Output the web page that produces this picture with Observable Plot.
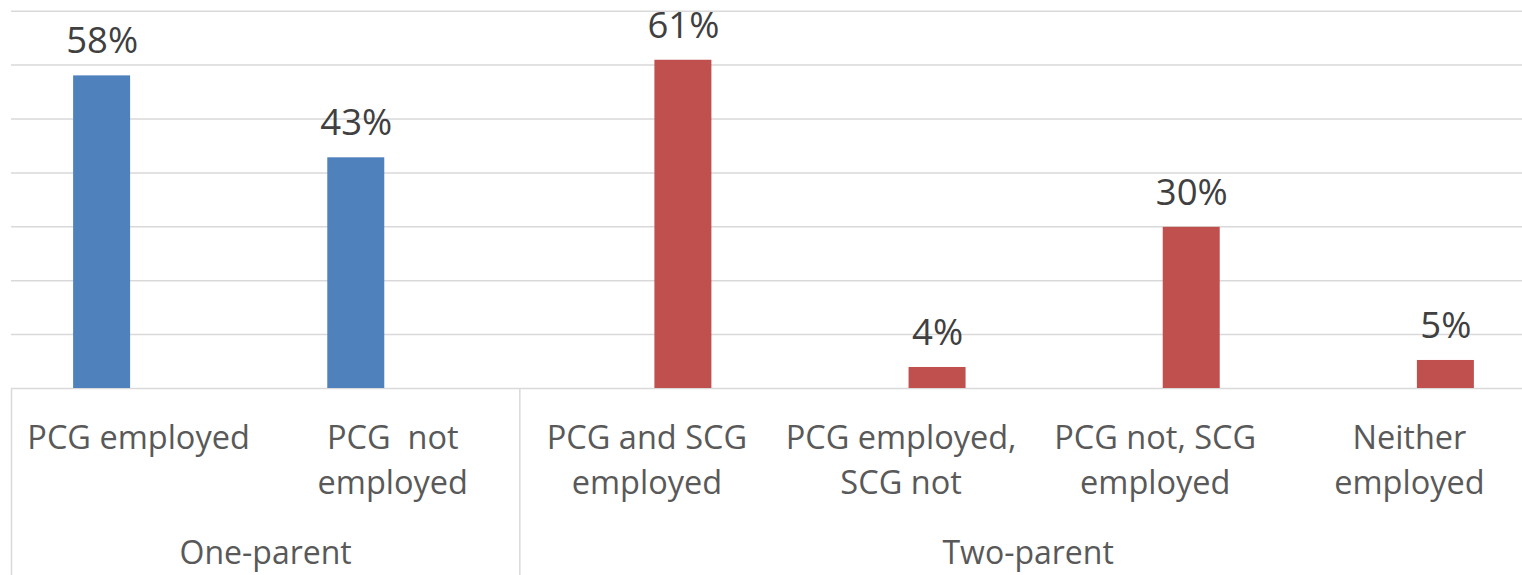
<!DOCTYPE html>
<html>
<head>
<meta charset="utf-8">
<script src="https://cdn.jsdelivr.net/npm/d3@7"></script>
<script src="https://cdn.jsdelivr.net/npm/@observablehq/plot@0.6"></script>
<style>
  html, body { margin: 0; padding: 0; background: #fff; }
  #chart { width: 1522px; height: 575px; overflow: hidden; }
</style>
</head>
<body>
<div id="chart"></div>
<script>
// ---- data ----
const categories = [
  "PCG employed",
  "PCG  not\nemployed",
  "PCG and SCG\nemployed",
  "PCG employed,\nSCG not",
  "PCG not, SCG\nemployed",
  "Neither\nemployed"
];
const groups = ["One-parent", "One-parent", "Two-parent", "Two-parent", "Two-parent", "Two-parent"];
const values = [58.0, 42.8, 60.9, 3.9, 29.9, 5.2];
const seriesNames = ["One-parent", "Two-parent"];
const seriesColors = ["#4F81BD", "#C0504D"];
const yTicks = [0, 10, 20, 30, 40, 50, 60, 70];

// Excel-like clustered column layout parameters
const gapWidth = 2.18;
const overlap = -0.28;
const nSeries = seriesNames.length;
const barW = 1 / (nSeries - (nSeries - 1) * overlap + gapWidth);
const clusterW = barW * (nSeries - (nSeries - 1) * overlap);
const barStart = (s) => 0.5 - clusterW / 2 + seriesNames.indexOf(s) * barW * (1 - overlap);

const data = categories.map((c, i) => ({cat: c, i, group: groups[i], value: values[i]}));

// group extents
const groupList = [];
groups.forEach((g, i) => {
  const last = groupList[groupList.length - 1];
  if (last && last.name === g) last.end = i + 1;
  else groupList.push({name: g, start: i, end: i + 1});
});
const boundaries = [0, ...groupList.map(g => g.end)];

const font = "'Open Sans', 'Noto Sans', sans-serif";

const chart = Plot.plot({
  width: 1522,
  height: 575,
  marginTop: 11,
  marginBottom: 187,
  marginLeft: 11,
  marginRight: 0,
  style: {fontFamily: font, overflow: "hidden", background: "#fff"},
  x: {type: "linear", domain: [0, categories.length], range: [11, 1536], axis: null},
  y: {domain: [0, 70], range: [388, 10.7], axis: null},
  color: {domain: seriesNames, range: seriesColors},
  marks: [
    Plot.ruleY(yTicks, {x1: 0, x2: categories.length, stroke: "#d9d9d9", strokeWidth: 1.5}),
    Plot.ruleX(boundaries, {y1: 0, y2: -40, stroke: "#d9d9d9", strokeWidth: 1.5}),
    Plot.rectY(data, {
      x1: d => d.i + barStart(d.group),
      x2: d => d.i + barStart(d.group) + barW,
      y: "value",
      fill: "group"
    }),
    Plot.text(data, {
      x: d => d.i + barStart(d.group) + barW / 2,
      y: "value",
      text: d => Math.round(d.value) + "%",
      dy: -34.3,
      lineAnchor: "middle",
      fontSize: 36.5,
      fill: "#404040"
    }),
    Plot.text(data, {
      x: d => d.i + 0.5,
      text: "cat",
      frameAnchor: "bottom",
      lineAnchor: "top",
      dy: 28.3,
      fontSize: 32.5,
      lineHeight: 1.385,
      fill: "#595959"
    }),
    Plot.text(groupList, {
      x: d => (d.start + d.end) / 2,
      text: "name",
      frameAnchor: "bottom",
      lineAnchor: "middle",
      dy: 165.5,
      fontSize: 32,
      fill: "#595959"
    })
  ]
});
document.getElementById("chart").appendChild(chart);
</script>
</body>
</html>
